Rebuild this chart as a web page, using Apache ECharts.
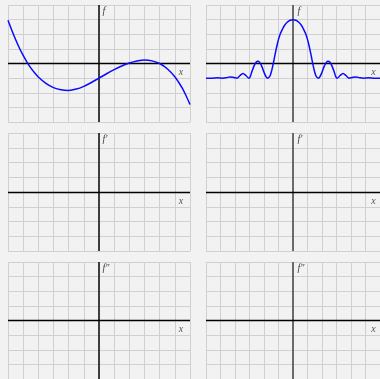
<!DOCTYPE html>
<html>
<head>
<meta charset="utf-8">
<script src="https://cdn.jsdelivr.net/npm/echarts@6/dist/echarts.min.js"></script>
<style>
html,body{margin:0;padding:0;background:#f2f2f2;}
#c{width:380px;height:379px;}
</style>
</head>
<body>
<div id="c"></div>
<script>
// Panel 1: f (cubic-like curve), x and y in grid units
const xsA = [-6,-5.75,-5.5,-5.25,-5,-4.75,-4.5,-4.25,-4,-3.5,-3,-2.5,-2,-1.5,-1,-0.5,0,0.5,1,1.5,2,2.5,3,3.5,4,4.5,5,5.25,5.5,5.75,6];
const fA  = [2.95,2.27,1.64,1.06,0.55,0.1,-0.3,-0.63,-0.92,-1.36,-1.65,-1.8,-1.84,-1.75,-1.56,-1.3,-1.0,-0.7,-0.42,-0.17,0.03,0.17,0.24,0.18,0.0,-0.36,-0.9,-1.28,-1.7,-2.22,-2.8];
// Panel 2: f (sinc-like pulse)
const xsB = [-6,-5.6,-5.2,-4.85,-4.6,-4.35,-4.1,-3.85,-3.65,-3.45,-3.25,-3.05,-2.95,-2.85,-2.7,-2.55,-2.42,-2.3,-2.15,-2.0,-1.85,-1.75,-1.6,-1.5,-1.4,-1.3,-1.2,-1.1,-1.0,-0.9,-0.8,-0.6,-0.4,-0.2,0,
             0.2,0.4,0.6,0.8,0.9,1.0,1.1,1.2,1.3,1.4,1.5,1.6,1.75,1.85,2.0,2.15,2.3,2.42,2.55,2.7,2.85,2.95,3.05,3.25,3.45,3.65,3.85,4.1,4.35,4.6,4.85,5.2,5.6,6];
const fB  = [-1,-1,-0.98,-1,-0.97,-0.92,-0.95,-1,-0.82,-0.68,-0.82,-1,-0.9,-0.6,-0.2,0.08,0.16,0.08,-0.2,-0.6,-0.92,-1,-0.88,-0.6,-0.18,0.3,0.8,1.25,1.65,1.97,2.2,2.58,2.82,2.96,3.0,
             2.96,2.82,2.58,2.2,1.97,1.65,1.25,0.8,0.3,-0.18,-0.6,-0.88,-1,-0.92,-0.6,-0.2,0.08,0.16,0.08,-0.2,-0.6,-0.9,-1,-0.82,-0.68,-0.82,-1,-0.95,-0.92,-0.97,-1,-0.98,-1,-1];
// Panel labels
const yLabels = ['f','f','f\u2032','f\u2032','f\u2033','f\u2033'];
const xLabel = 'x';
const xRange = [-6, 6];
const yRange = [-4, 4];

const panels = [
  {left: 8,   width: 182, top: 5,   height: 117, axisColor: '#222'},
  {left: 206, width: 176, top: 5,   height: 117, axisColor: '#555'},
  {left: 8,   width: 182, top: 133, height: 118, axisColor: '#222'},
  {left: 206, width: 176, top: 133, height: 118, axisColor: '#555'},
  {left: 8,   width: 182, top: 262, height: 117, axisColor: '#222'},
  {left: 206, width: 176, top: 262, height: 117, axisColor: '#555'}
];
const curves = {0: [xsA, fA], 1: [xsB, fB]};

const grid = [], xAxis = [], yAxis = [], series = [], graphic = [];
panels.forEach((p, i) => {
  grid.push({left: p.left, width: p.width, top: p.top, height: p.height, show: false});
  xAxis.push({type: 'value', gridIndex: i, min: xRange[0], max: xRange[1], interval: 1,
    axisLine: {show: false}, axisTick: {show: false}, axisLabel: {show: false},
    splitLine: {show: true, lineStyle: {color: '#d0d0d0', width: 1}}});
  yAxis.push({type: 'value', gridIndex: i, min: yRange[0], max: yRange[1], interval: 1,
    axisLine: {show: false}, axisTick: {show: false}, axisLabel: {show: false},
    splitLine: {show: true, lineStyle: {color: '#d0d0d0', width: 1}}});
  series.push({type: 'line', xAxisIndex: i, yAxisIndex: i, data: [], z: 2, silent: true,
    markLine: {silent: true, symbol: ['none', 'none'], animation: false, label: {show: false},
      data: [
        {xAxis: 0, lineStyle: {color: p.axisColor, width: 1.7, type: 'solid'}},
        {yAxis: 0, lineStyle: {color: '#000', width: 1.4, type: 'solid'}}
      ]}});
  if (curves[i]) {
    const [xs, ys] = curves[i];
    series.push({type: 'line', xAxisIndex: i, yAxisIndex: i, z: 5, silent: true,
      data: xs.map((x, k) => [x, ys[k]]), smooth: 0.3, showSymbol: false,
      lineStyle: {color: '#0a0aff', width: 1.5}});
  }
  const axisX = p.left + p.width / 2;
  const axisY = p.top + p.height / 2;
  const colW = p.width / 12;
  graphic.push({type: 'text', left: axisX + 3.5, top: p.top + 1, silent: true,
    style: {text: yLabels[i], fill: '#444', font: 'italic 10px "Liberation Serif"'}});
  graphic.push({type: 'text', left: p.left + 11 * colW + 4, top: axisY + 4, silent: true,
    style: {text: xLabel, fill: '#555', font: 'italic 10px "Liberation Serif"'}});
});

const chart = echarts.init(document.getElementById('c'), null, {renderer: 'canvas'});
chart.setOption({
  backgroundColor: '#f2f2f2',
  animation: false,
  grid, xAxis, yAxis, series, graphic
});
</script>
</body>
</html>
